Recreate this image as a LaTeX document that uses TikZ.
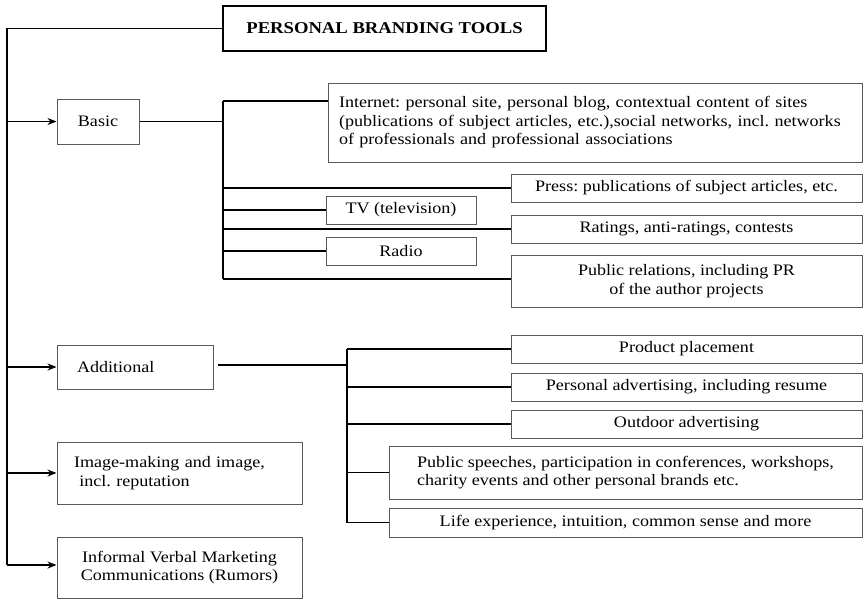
\documentclass[tikz,border=0pt]{standalone}
\usepackage{fontspec}
\setmainfont{Liberation Serif}[FakeStretch=1.13]
\usepackage{tikz}
\usetikzlibrary{arrows.meta, positioning}
\frenchspacing

\begin{document}
\begin{tikzpicture}[
    x=1pt, y=-1pt,
    box/.style={
        draw=black!65, line width=1pt, inner sep=0pt,
        font=\fontsize{16}{18.5}\selectfont, align=center
    },
    headbox/.style={
        draw, line width=1.6pt, inner sep=0pt,
        font=\fontsize{16.5}{18}\selectfont\bfseries
    },
    conn/.style={line width=1.6pt},
    arr/.style={conn, -{Stealth[length=9pt, width=7pt]}}
]
    \useasboundingbox (0,0) rectangle (863,600);

    % Title
    \node[headbox, minimum width=323pt, minimum height=45pt]
        (title) at (384.5,28.5) {PERSONAL BRANDING TOOLS};

    % Left column of tool groups
    \node[box, minimum width=82pt, minimum height=45pt] (basic) at (98,121.5) {Basic};
    \node[box, minimum width=156pt, minimum height=44pt, text width=116pt, align=left]
        (additional) at (135,367) {Additional};
    \node[box, minimum width=245pt, minimum height=62pt, text width=211pt, align=left]
        (image) at (179.5,473) {Image-making and image,\\ \ incl. reputation};
    \node[box, minimum width=245pt, minimum height=61pt]
        (informal) at (179.5,567.5) {Informal Verbal Marketing\\Communications (Rumors)};

    % Basic tools
    \node[box, minimum width=534pt, minimum height=79pt, text width=512pt, align=left]
        (internet) at (595,122.5) {Internet: personal site, personal blog, contextual content of sites\\(publications of subject articles, etc.),social networks, incl. networks\\of professionals and professional associations};
    \node[box, minimum width=351pt, minimum height=28pt] (press) at (686.5,188) {Press: publications of subject articles, etc.};
    \node[box, minimum width=150pt, minimum height=28pt] (tv) at (401,210) {TV (television)};
    \node[box, minimum width=351pt, minimum height=28pt] (ratings) at (686.5,229) {Ratings, anti-ratings, contests};
    \node[box, minimum width=150pt, minimum height=28pt] (radio) at (401,251) {Radio};
    \node[box, minimum width=351pt, minimum height=52pt] (pr) at (686.5,281) {Public relations, including PR\\of the author projects};

    % Additional tools
    \node[box, minimum width=351pt, minimum height=28pt] (product) at (686.5,349) {Product placement};
    \node[box, minimum width=351pt, minimum height=28pt] (personal) at (686.5,387) {Personal advertising, including resume};
    \node[box, minimum width=351pt, minimum height=28pt] (outdoor) at (686.5,424) {Outdoor advertising};
    \node[box, minimum width=473pt, minimum height=53pt, align=left]
        (speeches) at (625.5,472.5) {Public speeches, participation in conferences, workshops,\\charity events and other personal brands etc.};
    \node[box, minimum width=473pt, minimum height=29pt] (life) at (625.5,522.5) {Life experience, intuition, common sense and more};

    % Main trunk
    \coordinate (mtop) at (7,28.5);
    \coordinate (mbot) at (7,565);
    \draw[conn] (title.west) -- (mtop) -- (mbot);
    \draw[arr] (mtop |- basic.west) -- (basic.west);
    \draw[arr] (mtop |- additional.west) -- (additional.west);
    \draw[arr] (mtop |- image.west) -- (image.west);
    \draw[arr] (mbot) -- (mbot -| informal.west);

    % Basic branch
    \coordinate (btop) at (223,101);
    \coordinate (bbot) at (223,279);
    \draw[conn] (basic.east) -- (basic.east -| btop);
    \draw[conn] (btop) -- (bbot);
    \draw[conn] (btop) -- (btop -| internet.west);
    \draw[conn] (btop |- press.west) -- (press.west);
    \draw[conn] (btop |- tv.west) -- (tv.west);
    \draw[conn] (btop |- ratings.west) -- (ratings.west);
    \draw[conn] (btop |- radio.west) -- (radio.west);
    \draw[conn] (bbot) -- (bbot -| pr.west);

    % Additional branch
    \coordinate (atrunk) at (347,365);
    \draw[conn] ([xshift=4pt]additional.east |- atrunk) -- (atrunk);
    \draw[conn] (atrunk |- product.west) -- (atrunk |- life.west);
    \draw[conn] (atrunk |- product.west) -- (product.west);
    \draw[conn] (atrunk |- personal.west) -- (personal.west);
    \draw[conn] (atrunk |- outdoor.west) -- (outdoor.west);
    \draw[conn] (atrunk |- speeches.west) -- (speeches.west);
    \draw[conn] (atrunk |- life.west) -- (life.west);
\end{tikzpicture}
\end{document}
